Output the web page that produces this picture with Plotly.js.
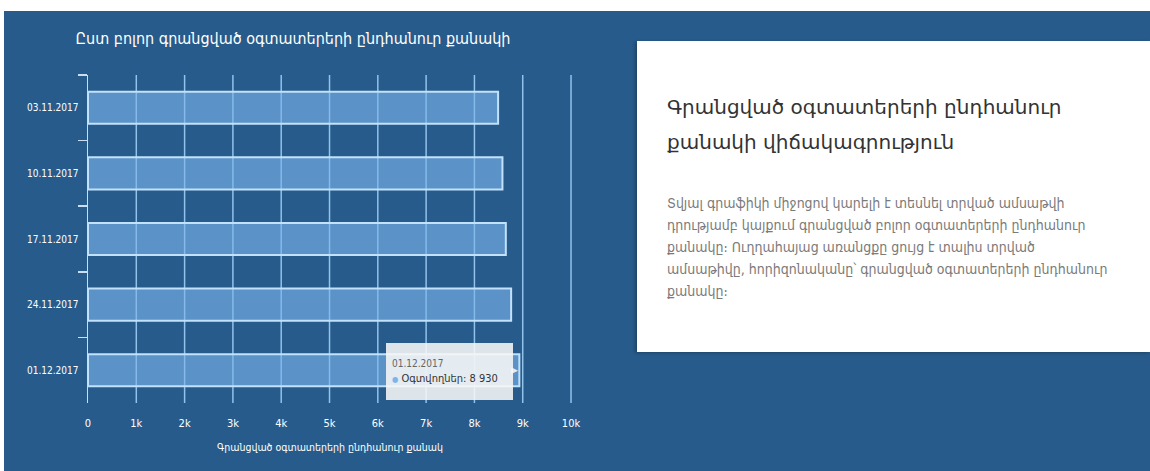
<!DOCTYPE html>
<html>
<head>
<meta charset="utf-8">
<script src="https://cdn.plot.ly/plotly-3.0.1.min.js"></script>
<style>
  html, body { margin: 0; padding: 0; background: #ffffff; width: 1150px; height: 471px; overflow: hidden; }
  #bg { position: absolute; left: 4px; top: 11px; width: 1146px; height: 460px; background: #275b8b; }
  #chart { position: absolute; left: 4px; top: 11px; width: 1146px; height: 460px; }
  #panel { position: absolute; left: 637px; top: 41px; width: 513px; height: 311px; background: #ffffff;
           box-shadow: -2px 1px 3px rgba(0,0,0,0.25); }
  #panel h2 { position: absolute; left: 30px; top: 49px; margin: 0; font-family: "DejaVu Sans", sans-serif;
              font-weight: normal; font-size: 20px; line-height: 35px; color: #333333; white-space: nowrap; }
  #panel p { position: absolute; left: 30px; top: 151px; margin: 0; font-family: "DejaVu Sans Condensed", "DejaVu Sans", sans-serif;
             font-size: 14px; line-height: 22px; color: #7a7a7a; white-space: nowrap; }
</style>
</head>
<body>
<div id="bg"></div>
<div id="chart"></div>
<div id="panel">
  <h2 id="ph"></h2>
  <p id="pb"></p>
</div>
<script>
// ---- data ----
const dates = ["03.11.2017", "10.11.2017", "17.11.2017", "24.11.2017", "01.12.2017"];
const users = [8490, 8580, 8650, 8760, 8930];
const tickValues = [0, 1000, 2000, 3000, 4000, 5000, 6000, 7000, 8000, 9000, 10000];
const tickLabels = ["0", "1k", "2k", "3k", "4k", "5k", "6k", "7k", "8k", "9k", "10k"];
const seriesName = "Օգտվողներ";
const chartTitle = "Ըստ բոլոր գրանցված օգտատերերի ընդհանուր քանակի";
const xAxisTitle = "Գրանցված օգտատերերի ընդհանուր քանակ";
const panelHeading = ["Գրանցված օգտատերերի ընդհանուր", "քանակի վիճակագրություն"];
const panelBody = [
  "Տվյալ գրաֆիկի միջոցով կարելի է տեսնել տրված ամսաթվի",
  "դրությամբ կայքում գրանցված բոլոր օգտատերերի ընդհանուր",
  "քանակը։ Ուղղահայաց առանցքը ցույց է տալիս տրված",
  "ամսաթիվը, հորիզոնականը՝ գրանցված օգտատերերի ընդհանուր",
  "քանակը։"
];

document.getElementById("ph").innerHTML = panelHeading.join("<br>");
document.getElementById("pb").innerHTML = panelBody.join("<br>");

function fmt(v) { return String(v).replace(/\B(?=(\d{3})+(?!\d))/g, " "); }

const lastIdx = dates.length - 1;
const axisCol = "#c9def2";
const gridCol = "#93c2ea";
const condensed = "'DejaVu Sans Condensed', 'DejaVu Sans', sans-serif";

const trace = {
  type: "bar",
  orientation: "h",
  y: dates,
  x: users,
  name: seriesName,
  marker: { color: "rgba(124,181,236,0.62)", line: { color: "#c2e2fc", width: 2 } },
  hoverinfo: "none"
};

// vertical grid lines, one per tick value (drawn below the bars)
const gridShapes = tickValues.filter(v => v > 0).map(v => ({
  type: "line", xref: "x", yref: "paper", x0: v, x1: v, y0: 0, y1: 1,
  line: { color: gridCol, width: 1.5 }, layer: "below"
}));

const layout = {
  width: 1146,
  height: 460,
  margin: { l: 84, r: 578, t: 64, b: 68 },
  paper_bgcolor: "rgba(0,0,0,0)",
  plot_bgcolor: "rgba(0,0,0,0)",
  showlegend: false,
  hovermode: false,
  bargap: 0.51,
  title: {
    text: chartTitle,
    font: { family: condensed, size: 16, color: "#ffffff" },
    xref: "container", x: 289 / 1146, xanchor: "center",
    yref: "container", y: 1 - 27 / 460, yanchor: "middle"
  },
  xaxis: {
    range: [0, 10020],
    tickvals: tickValues,
    ticktext: tickLabels,
    showgrid: false,
    zeroline: false,
    showline: false,
    ticks: "",
    ticklabelstandoff: 12,
    tickfont: { family: condensed, size: 11, color: "#ffffff" },
    title: { text: xAxisTitle, standoff: 14, font: { family: condensed, size: 10.5, color: "#ffffff" } },
    fixedrange: true
  },
  yaxis: {
    type: "category",
    autorange: "reversed",
    showgrid: false,
    zeroline: false,
    showline: true,
    linecolor: axisCol,
    linewidth: 1.5,
    ticks: "outside",
    tickson: "boundaries",
    ticklen: 9,
    tickwidth: 1.5,
    tickcolor: axisCol,
    ticklabelstandoff: 6,
    tickfont: { family: condensed, size: 10, color: "#ffffff" },
    fixedrange: true
  },
  shapes: gridShapes,
  annotations: [
    {
      x: users[lastIdx], y: dates[lastIdx], xref: "x", yref: "y",
      xanchor: "right", yanchor: "middle", xshift: -6, yshift: -1,
      showarrow: false, align: "left",
      bgcolor: "rgba(247,247,247,0.88)", borderwidth: 0,
      borderpad: 6, width: 115, height: 45,
      text: "<span style='font-size:10px;color:#666666'>" + dates[lastIdx] + "</span><br>" +
            "<span style='color:#7cb5ec;font-size:8px'>●</span> " + seriesName + ": " + fmt(users[lastIdx]),
      font: { family: condensed, size: 11, color: "#333333" }
    },
    {
      x: users[lastIdx], y: dates[lastIdx], xref: "x", yref: "y",
      xanchor: "right", yanchor: "middle", xshift: 1, yshift: 0,
      showarrow: false, text: "▶",
      font: { family: "DejaVu Sans", size: 9, color: "rgba(247,247,247,0.88)" }
    }
  ]
};

Plotly.newPlot("chart", [trace], layout, { displayModeBar: false, staticPlot: true });
</script>
</body>
</html>
